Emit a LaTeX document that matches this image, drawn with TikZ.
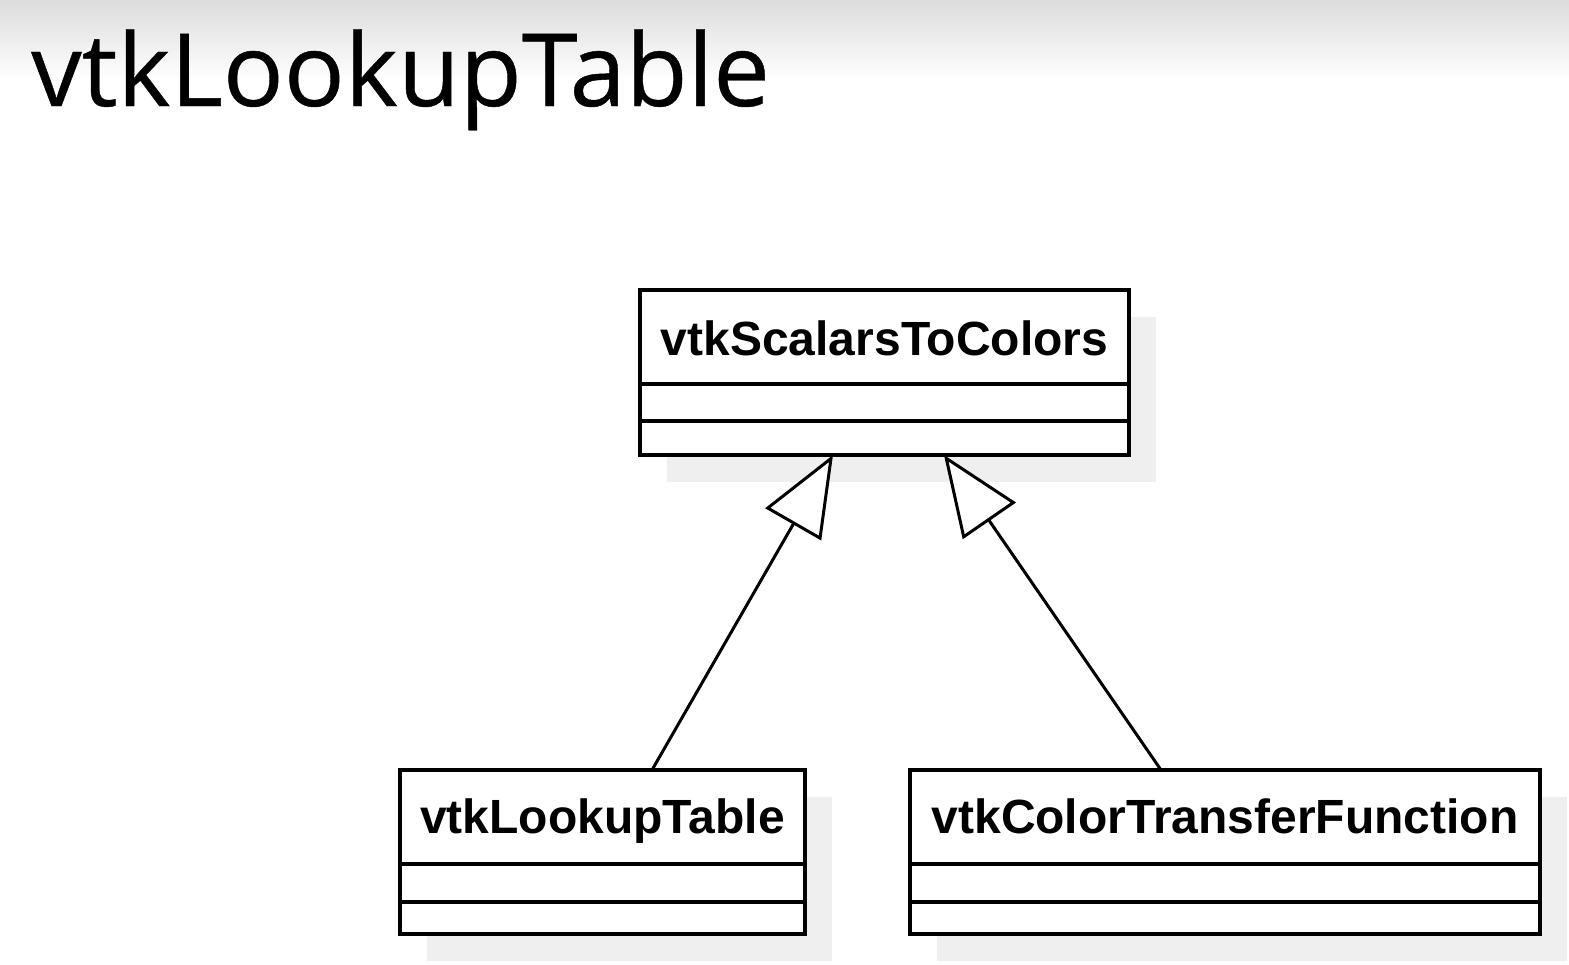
\documentclass[tikz,border=0pt]{standalone}
\usepackage{fontspec}
\setmainfont{Liberation Sans}
\newfontfamily\titlefont[FakeBold=0.4]{Open Sans}
\usetikzlibrary{arrows.meta}
\definecolor{shadowgray}{HTML}{EFEFEF}
\definecolor{topgray}{HTML}{DCDCDC}
\tikzset{
  cls/.style={draw=black, line width=3.2pt, fill=white, rectangle, inner sep=0pt, outer sep=0pt, anchor=north west},
  shadowfill/.style={fill=shadowgray, draw=none},
  divider/.style={draw=black, line width=3.2pt},
  lbl/.style={font=\fontsize{48}{48}\selectfont\bfseries, anchor=base, inner sep=0pt},
  ttl/.style={font=\titlefont\fontsize{101}{101}\selectfont, anchor=base west, inner sep=0pt},
  inherit/.style={line width=3pt, -{Triangle[open, fill=white, length=80pt, width=64pt, line width=3pt]}}
}
\begin{document}
\begin{tikzpicture}[x=1pt, y=-1pt]
\useasboundingbox (0,0) rectangle (1569,964);
\fill[white] (0,0) rectangle (1569,964);
\shade[top color=topgray, bottom color=white] (0,0) rectangle (1569,80);

\node[ttl] (title) at (31,106) {vtkLookupTable};

% shadows
\fill[shadowfill] (667,317) rectangle ++(489,165);
\fill[shadowfill] (427,797) rectangle ++(405,164);
\fill[shadowfill] (937,797) rectangle ++(630,164);

% class boxes
\node[cls, minimum width=489pt, minimum height=165pt] (top) at (640,290) {};
\node[cls, minimum width=405pt, minimum height=164pt] (lt) at (400,770) {};
\node[cls, minimum width=630pt, minimum height=164pt] (rt) at (910,770) {};

\draw[divider] (top.west |- 0,384) -- (top.east |- 0,384);
\draw[divider] (top.west |- 0,421) -- (top.east |- 0,421);
\draw[divider] (lt.west |- 0,864) -- (lt.east |- 0,864);
\draw[divider] (lt.west |- 0,902) -- (lt.east |- 0,902);
\draw[divider] (rt.west |- 0,864) -- (rt.east |- 0,864);
\draw[divider] (rt.west |- 0,902) -- (rt.east |- 0,902);

\node[lbl] (toplbl) at ([yshift=-65pt]top.north) {vtkScalarsToColors};
\node[lbl] (ltlbl) at ([yshift=-63pt]lt.north) {vtkLookupTable};
\node[lbl] (rtlbl) at ([yshift=-63pt]rt.north) {vtkColorTransferFunction};

% generalization arrows
\draw[inherit] ([xshift=252pt]lt.north west) -- ([xshift=193pt]top.south west);
\draw[inherit] ([xshift=251pt]rt.north west) -- ([xshift=304pt]top.south west);
\end{tikzpicture}
\end{document}
